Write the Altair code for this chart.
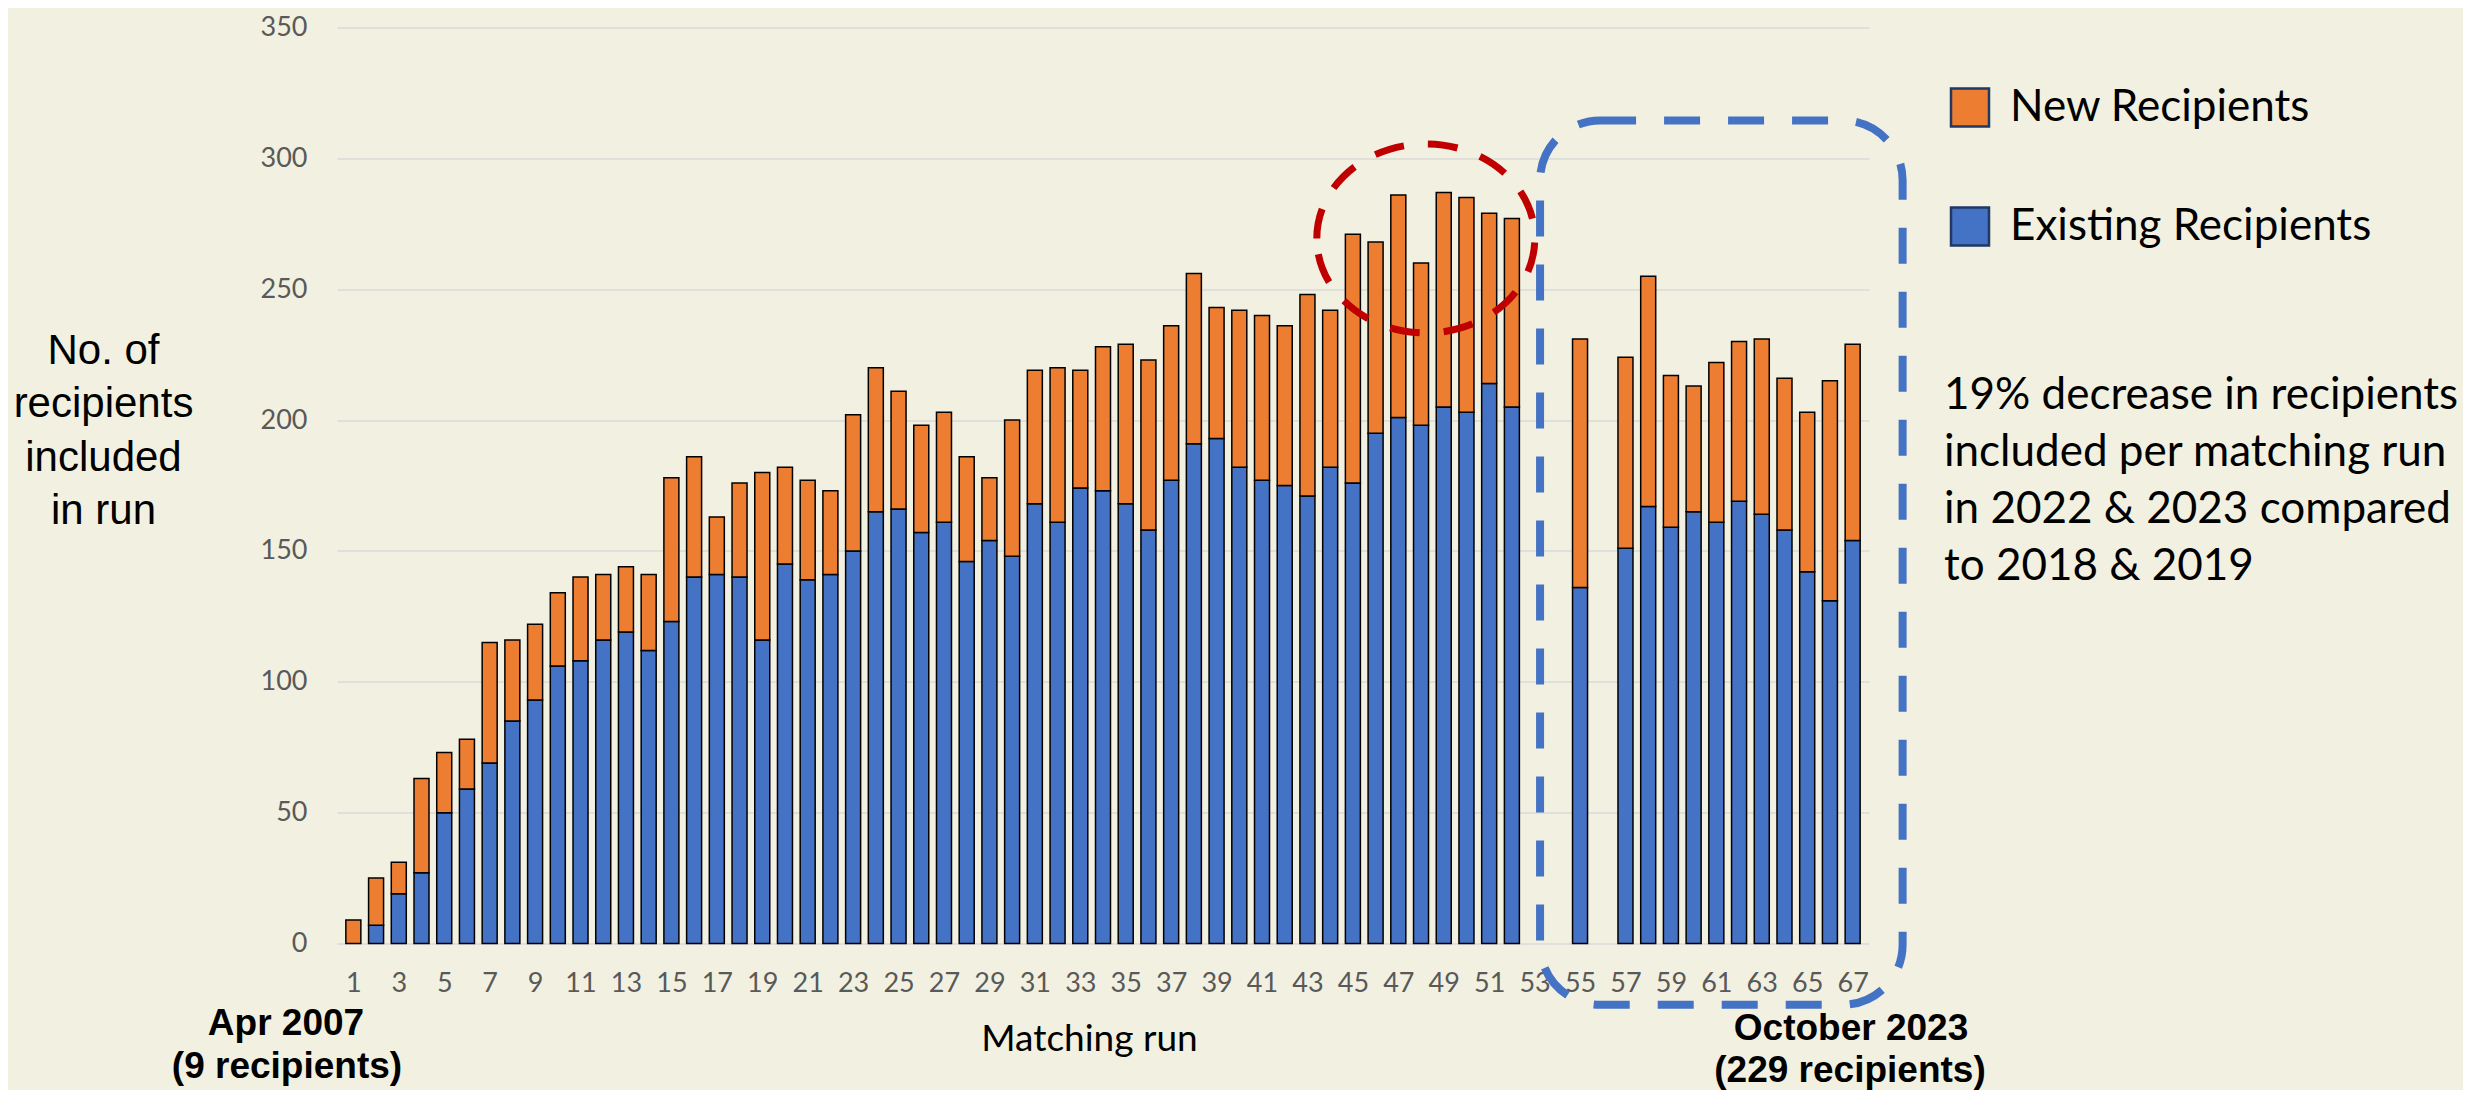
import altair as alt
import pandas as pd

# ---- data ----
runs = list(range(1, 53)) + [55] + list(range(57, 68))
totals = [9, 25, 31, 63, 73, 78, 115, 116, 122, 134,
          140, 141, 144, 141, 178, 186, 163, 176, 180, 182,
          177, 173, 202, 220, 211, 198, 203, 186, 178, 200,
          219, 220, 219, 228, 229, 223, 236, 256, 243, 242,
          240, 236, 248, 242, 271, 268, 286, 260, 287, 285,
          279, 277,
          231,
          224, 255, 217, 213, 222, 230, 231, 216, 203, 215, 229]
existing = [0, 7, 19, 27, 50, 59, 69, 85, 93, 106,
            108, 116, 119, 112, 123, 140, 141, 140, 116, 145,
            139, 141, 150, 165, 166, 157, 161, 146, 154, 148,
            168, 161, 174, 173, 168, 158, 177, 191, 193, 182,
            177, 175, 171, 182, 176, 195, 201, 198, 205, 203,
            214, 205,
            136,
            151, 167, 159, 165, 161, 169, 164, 158, 142, 131, 154]
series_names = ["New Recipients", "Existing Recipients"]
series_colors = ["#ED7D31", "#4472C4"]
x_tick_values = list(range(1, 68, 2))
y_tick_values = list(range(0, 351, 50))

# annotation shapes, in data units (run, recipients)
box_run = [53.24, 69.2]
box_val = [314.5, -23.4]
ellipse_run = [48.21]
ellipse_val = [269.4]

rows = []
for r, t, e in zip(runs, totals, existing):
    if e > 0:
        rows.append({"run": r, "series": "Existing Recipients", "lo": 0, "hi": e})
    rows.append({"run": r, "series": "New Recipients", "lo": e, "hi": t})
df = pd.DataFrame(rows)

BG = "#F2F1E1"
LABEL_FONT = "Lato"

xscale = alt.Scale(domain=[0.5, 67.5], nice=False, zero=False)
yscale = alt.Scale(domain=[0, 350], nice=False, zero=True)

bars = alt.Chart(df).mark_bar(size=15, stroke="black", strokeWidth=1.5).encode(
    x=alt.X("run:Q", scale=xscale,
            axis=alt.Axis(values=x_tick_values, format="d", grid=False, ticks=False, tickSize=0,
                          domain=False, labelFlush=False, labelOverlap=False, labelBound=False,
                          labelFont=LABEL_FONT, labelFontSize=27, labelColor="#595959",
                          labelBaseline="middle", labelPadding=40,
                          title="Matching run", titleFont=LABEL_FONT, titleFontSize=37,
                          titleFontWeight="normal", titleColor="#000000",
                          titleX=752, titleY=96, titleAnchor="middle", titleAlign="center",
                          titleBaseline="middle")),
    y=alt.Y("lo:Q", scale=yscale,
            axis=alt.Axis(values=y_tick_values, grid=True, gridColor="#D9D9D9", gridWidth=1.5,
                          ticks=False, tickSize=0, domain=False,
                          labelFont=LABEL_FONT, labelFontSize=27, labelColor="#595959",
                          labelPadding=30, labelBaseline="middle",
                          title=["No. of", "recipients", "included", "in run"],
                          titleFont="Liberation Sans", titleFontSize=42, titleFontWeight="normal",
                          titleColor="#000000", titleAngle=0, titleAlign="center",
                          titleBaseline="middle", titleLineHeight=53.5,
                          titleX=-234, titleY=322.5, titleAnchor="start")),
    y2="hi:Q",
    color=alt.Color("series:N", scale=alt.Scale(domain=series_names, range=series_colors),
                    legend=alt.Legend(title=None, orient="none", legendX=1611, legendY=58,
                                      symbolType="square", symbolSize=1444,
                                      symbolStrokeColor="#1F3864", symbolStrokeWidth=2.5,
                                      symbolOpacity=1,
                                      labelFont=LABEL_FONT, labelFontSize=44, labelColor="#000000",
                                      labelOffset=18, rowPadding=71, padding=0,
                                      labelLimit=600)),
)

box_df = pd.DataFrame({"x1": [box_run[0]], "x2": [box_run[1]],
                       "y1": [box_val[0]], "y2": [box_val[1]]})
box = alt.Chart(box_df).mark_rect(cornerRadius=60, fillOpacity=0, stroke="#4472C4",
                                  strokeWidth=8, strokeDash=[36, 28]).encode(
    x=alt.X("x1:Q", scale=xscale),
    x2="x2:Q",
    y=alt.Y("y1:Q", scale=yscale),
    y2="y2:Q",
)

ell_df = pd.DataFrame({"ex": ellipse_run, "ey": ellipse_val})
ellipse_path = "M -1 0 A 1 0.867 0 1 1 1 0 A 1 0.867 0 1 1 -1 0 Z"
ellipse = alt.Chart(ell_df).mark_point(shape=ellipse_path, size=47524, filled=False,
                                       stroke="#C00000", strokeWidth=7, strokeDash=[30, 24],
                                       opacity=1).encode(
    x=alt.X("ex:Q", scale=xscale),
    y=alt.Y("ey:Q", scale=yscale),
)


def label(txt, x, y, **kw):
    return alt.Chart(pd.DataFrame({"t": [0]})).mark_text(**kw).encode(
        x=alt.value(x), y=alt.value(y), text=alt.value(txt))


bold = dict(font="Liberation Sans", fontSize=37, fontWeight="bold", color="#000000",
            align="center", baseline="middle")
t1 = label("Apr 2007", -51, 996.5, **bold)
t2 = label("(9 recipients)", -50, 1039.5, **bold)
t3 = label("October 2023", 1514, 1001, **bold)
t4 = label("(229 recipients)", 1513, 1043, **bold)
note = label(["19% decrease in recipients", "included per matching run",
              "in 2022 & 2023 compared", "to 2018 & 2019"], 1607, 368,
             font=LABEL_FONT, fontSize=44, color="#000000", align="left",
             baseline="middle", lineHeight=57)

chart = alt.layer(bars, box, ellipse, t1, t2, t3, t4, note).properties(
    width=1532, height=916,
    autosize=alt.AutoSizeParams(type="none"),
    padding={"left": 329, "top": 19.5, "right": 594, "bottom": 146},
    background=BG,
).configure_view(stroke=None)

chart.save("out.html", embed_options={"renderer": "svg", "actions": False})
